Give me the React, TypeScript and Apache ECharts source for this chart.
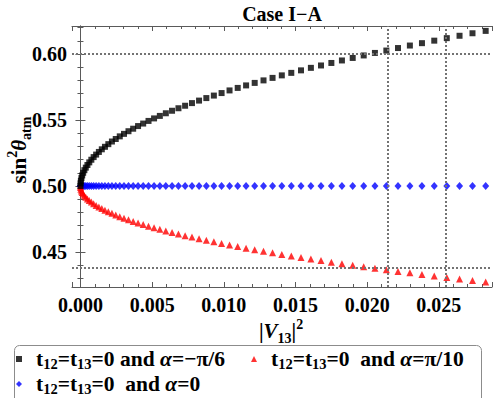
import React, { useEffect, useRef } from "react";
import * as echarts from "echarts";

// |V13|^2 sample positions (shared by all three series)
const xValues = [
  0, 0.0000076, 0.0000304, 0.0000684, 0.0001216, 0.0001899, 0.0002735, 0.0003723, 0.0004862, 0.0006154,
  0.0007597, 0.0009192, 0.001094, 0.0012839, 0.001489, 0.0017093, 0.0019448, 0.0021955, 0.0024614, 0.0027425,
  0.0030388, 0.0033503, 0.0036769, 0.0040188, 0.0043759, 0.0047481, 0.0051356, 0.0055382, 0.005956, 0.0063891,
  0.0068373, 0.0073007, 0.0077793, 0.0082731, 0.0087821, 0.0093063, 0.0098457, 0.0104003, 0.0109701, 0.0115551,
  0.0121552, 0.0127705, 0.0134011, 0.0140469, 0.0147078, 0.0153839, 0.0160753, 0.0167818, 0.0175035, 0.0182404,
  0.0189925, 0.0197598, 0.0205423, 0.02134, 0.0221529, 0.0229809, 0.0238242, 0.0246826, 0.0255563, 0.0264452,
  0.0273492, 0.0282684,
];

// alpha = -pi/6 (black squares)
const blackValues = [
  0.5, 0.502, 0.504, 0.506, 0.508, 0.51, 0.512, 0.5139, 0.5159, 0.5179,
  0.5199, 0.5219, 0.5238, 0.5258, 0.5278, 0.5297, 0.5317, 0.5337, 0.5356, 0.5376,
  0.5395, 0.5415, 0.5434, 0.5454, 0.5473, 0.5493, 0.5512, 0.5531, 0.5551, 0.557,
  0.5589, 0.5608, 0.5628, 0.5647, 0.5666, 0.5685, 0.5704, 0.5724, 0.5743, 0.5762,
  0.5781, 0.58, 0.5819, 0.5838, 0.5857, 0.5876, 0.5895, 0.5913, 0.5932, 0.5951,
  0.597, 0.5989, 0.6008, 0.6026, 0.6045, 0.6064, 0.6082, 0.6101, 0.612, 0.6138,
  0.6157, 0.6175,
];

// alpha = pi/10 (red triangles)
const redValues = [
  0.5, 0.4988, 0.4975, 0.4963, 0.4951, 0.4939, 0.4926, 0.4914, 0.4902, 0.489,
  0.4878, 0.4866, 0.4853, 0.4841, 0.4829, 0.4817, 0.4805, 0.4793, 0.4781, 0.4768,
  0.4756, 0.4744, 0.4732, 0.472, 0.4708, 0.4696, 0.4684, 0.4672, 0.466, 0.4648,
  0.4636, 0.4624, 0.4613, 0.4601, 0.4589, 0.4577, 0.4565, 0.4553, 0.4541, 0.4529,
  0.4518, 0.4506, 0.4494, 0.4482, 0.447, 0.4459, 0.4447, 0.4435, 0.4423, 0.4412,
  0.44, 0.4388, 0.4377, 0.4365, 0.4353, 0.4342, 0.433, 0.4318, 0.4307, 0.4295,
  0.4284, 0.4272,
];

// alpha = 0 (blue diamonds)
const blueValues = [
  0.5, 0.5, 0.5, 0.5, 0.5, 0.5, 0.5, 0.5, 0.5, 0.5,
  0.5, 0.5, 0.5, 0.5, 0.5, 0.5, 0.5, 0.5, 0.5, 0.5,
  0.5, 0.5, 0.5, 0.5, 0.5, 0.5, 0.5, 0.5, 0.5, 0.5,
  0.5, 0.5, 0.5, 0.5, 0.5, 0.5, 0.5, 0.5, 0.5, 0.5,
  0.5, 0.5, 0.5, 0.5, 0.5, 0.5, 0.5, 0.5, 0.5, 0.5,
  0.5, 0.5, 0.5, 0.5, 0.5, 0.5, 0.5, 0.5, 0.5, 0.5,
  0.5, 0.5,
];

const refLinesY = [0.6, 0.4384];
const refLinesX = [0.02146, 0.02549];

const xRange = [-0.00059, 0.02871];
const yRange = [0.4235, 0.6212];

const seriesNames = ["black", "red", "blue"];

const FONT = "'Liberation Serif', 'Times New Roman', serif";
const FRAME = "#5a5a5a";

const richBase = {
  b: { fontFamily: FONT, fontWeight: "bold", fontSize: 21.5, color: "#000", lineHeight: 24, verticalAlign: "middle" },
  s: { fontFamily: FONT, fontWeight: "bold", fontSize: 14.5, color: "#000", lineHeight: 24, verticalAlign: "bottom" },
  i: { fontFamily: FONT, fontWeight: "bold", fontStyle: "italic", fontSize: 21.5, color: "#000", lineHeight: 24, verticalAlign: "middle" },
  g: { width: 9, fontSize: 20, lineHeight: 24 },
};

const legendTexts: Record<string, string> = {
  black: "{g| }{b|t}{s|12}{b|=t}{s|13}{b|=0 and }{i|α}{b|=−π/6}",
  red: "{g| }{b|t}{s|12}{b|=t}{s|13}{b|=0  and }{i|α}{b|=π/10}",
  blue: "{g| }{b|t}{s|12}{b|=t}{s|13}{b|=0  and }{i|α}{b|=0}",
};

function pairs(ys: number[]) {
  return xValues.map((x, i) => [x, ys[i]]);
}

export default function App() {
  const ref = useRef<HTMLDivElement>(null);
  useEffect(() => {
    if (!ref.current) return;
    const chart = echarts.init(ref.current, null, { renderer: "svg" });

    const mkLegend = (name: string, left: number, top: number) => ({
      data: [name],
      left,
      top,
      padding: 0,
      itemWidth: 6,
      itemHeight: 6,
      selectedMode: false,
      formatter: (n: string) => legendTexts[n],
      textStyle: { rich: richBase },
    });

    const axisCommon = {
      axisLine: { show: true, lineStyle: { color: FRAME, width: 1 } },
      axisTick: { show: true, inside: true, length: 5, lineStyle: { color: FRAME } },
      minorTick: { show: true, splitNumber: 5, length: 3, lineStyle: { color: FRAME } },
      splitLine: { show: false },
      minorSplitLine: { show: false },
    };

    const option: any = {
      animation: false,
      backgroundColor: "#fff",
      grid: { left: 72, right: 1, top: 26, bottom: 111, containLabel: false },
      xAxis: [
        {
          type: "value",
          min: xRange[0],
          max: xRange[1],
          minInterval: 0.005,
          maxInterval: 0.005,
          position: "bottom",
          ...axisCommon,
          axisLabel: {
            show: true,
            margin: 8,
            showMinLabel: false,
            showMaxLabel: false,
            fontFamily: FONT,
            fontWeight: "bold",
            fontSize: 20,
            color: "#000",
            formatter: (v: number) => v.toFixed(3),
          },
        },
        {
          type: "value",
          min: xRange[0],
          max: xRange[1],
          minInterval: 0.005,
          maxInterval: 0.005,
          position: "top",
          ...axisCommon,
          axisLabel: { show: false },
        },
      ],
      yAxis: [
        {
          type: "value",
          min: yRange[0],
          max: yRange[1],
          minInterval: 0.05,
          maxInterval: 0.05,
          position: "left",
          ...axisCommon,
          axisLabel: {
            show: true,
            margin: 5,
            showMinLabel: false,
            showMaxLabel: false,
            fontFamily: FONT,
            fontWeight: "bold",
            fontSize: 20,
            color: "#000",
            formatter: (v: number) => v.toFixed(2),
          },
        },
        {
          type: "value",
          min: yRange[0],
          max: yRange[1],
          minInterval: 0.05,
          maxInterval: 0.05,
          position: "right",
          ...axisCommon,
          axisLabel: { show: false },
        },
      ],
      legend: [mkLegend("black", 16, 348), mkLegend("red", 251, 348), mkLegend("blue", 16, 373)],
      series: [
        {
          name: "refs",
          type: "line",
          data: [],
          z: 1,
          silent: true,
          markLine: {
            silent: true,
            symbol: "none",
            precision: 6,
            animation: false,
            label: { show: false },
            lineStyle: { color: "#737373", type: [2, 2], width: 2 },
            data: [
              ...refLinesY.map((v) => ({ yAxis: v })),
              ...refLinesX.map((v) => ({ xAxis: v })),
            ],
          },
        },
        {
          name: seriesNames[2],
          type: "scatter",
          symbol: "diamond",
          symbolSize: [7, 8],
          itemStyle: { color: "#0000ff" },
          data: pairs(blueValues),
          z: 3,
        },
        {
          name: seriesNames[1],
          type: "scatter",
          symbol: "triangle",
          symbolSize: [7, 7],
          itemStyle: { color: "#ff0000" },
          data: pairs(redValues),
          z: 3,
        },
        {
          name: seriesNames[0],
          type: "scatter",
          symbol: "rect",
          symbolSize: 6,
          itemStyle: { color: "#000000" },
          data: pairs(blackValues),
          z: 4,
        },
      ],
      graphic: [
        {
          type: "text",
          x: 282,
          y: 14,
          style: {
            text: "Case I−A",
            font: `bold 20px ${FONT}`,
            fill: "#000",
            align: "center",
            verticalAlign: "middle",
          },
        },
        {
          type: "text",
          x: 281,
          y: 331,
          style: {
            text: "{b||}{v|V}{s|13}{b||}{p|2}",
            rich: {
              b: { fontFamily: FONT, fontWeight: "bold", fontSize: 21, lineHeight: 28, verticalAlign: "middle", fill: "#000" },
              v: { fontFamily: FONT, fontWeight: "bold", fontStyle: "italic", fontSize: 21, lineHeight: 28, verticalAlign: "middle", fill: "#000" },
              s: { fontFamily: FONT, fontWeight: "bold", fontSize: 14, lineHeight: 28, verticalAlign: "bottom", fill: "#000" },
              p: { fontFamily: FONT, fontWeight: "bold", fontSize: 14, lineHeight: 28, verticalAlign: "top", fill: "#000" },
            },
            align: "center",
            verticalAlign: "middle",
          },
        },
        {
          type: "text",
          x: 19,
          y: 150,
          rotation: Math.PI / 2,
          style: {
            text: "{b|sin}{p|2}{t|θ}{s|atm}",
            rich: {
              b: { fontFamily: FONT, fontWeight: "bold", fontSize: 21, lineHeight: 28, verticalAlign: "middle", fill: "#000" },
              t: { fontFamily: FONT, fontWeight: "bold", fontStyle: "italic", fontSize: 21, lineHeight: 28, verticalAlign: "middle", fill: "#000" },
              s: { fontFamily: FONT, fontWeight: "bold", fontSize: 14, lineHeight: 28, verticalAlign: "bottom", fill: "#000" },
              p: { fontFamily: FONT, fontWeight: "bold", fontSize: 14, lineHeight: 28, verticalAlign: "top", fill: "#000" },
            },
            align: "center",
            verticalAlign: "middle",
          },
        },
        {
          type: "rect",
          shape: { x: 14.5, y: 345.5, width: 467, height: 70, r: 5 },
          style: { fill: "none", stroke: "#8c8c8c", lineWidth: 1 },
          z: -1,
        },
      ],
    };
    chart.setOption(option);
    return () => chart.dispose();
  }, []);
  return (
    <div
      ref={ref}
      style={{ position: "absolute", left: 0, top: 0, width: 493, height: 398, background: "#fff" }}
    />
  );
}
